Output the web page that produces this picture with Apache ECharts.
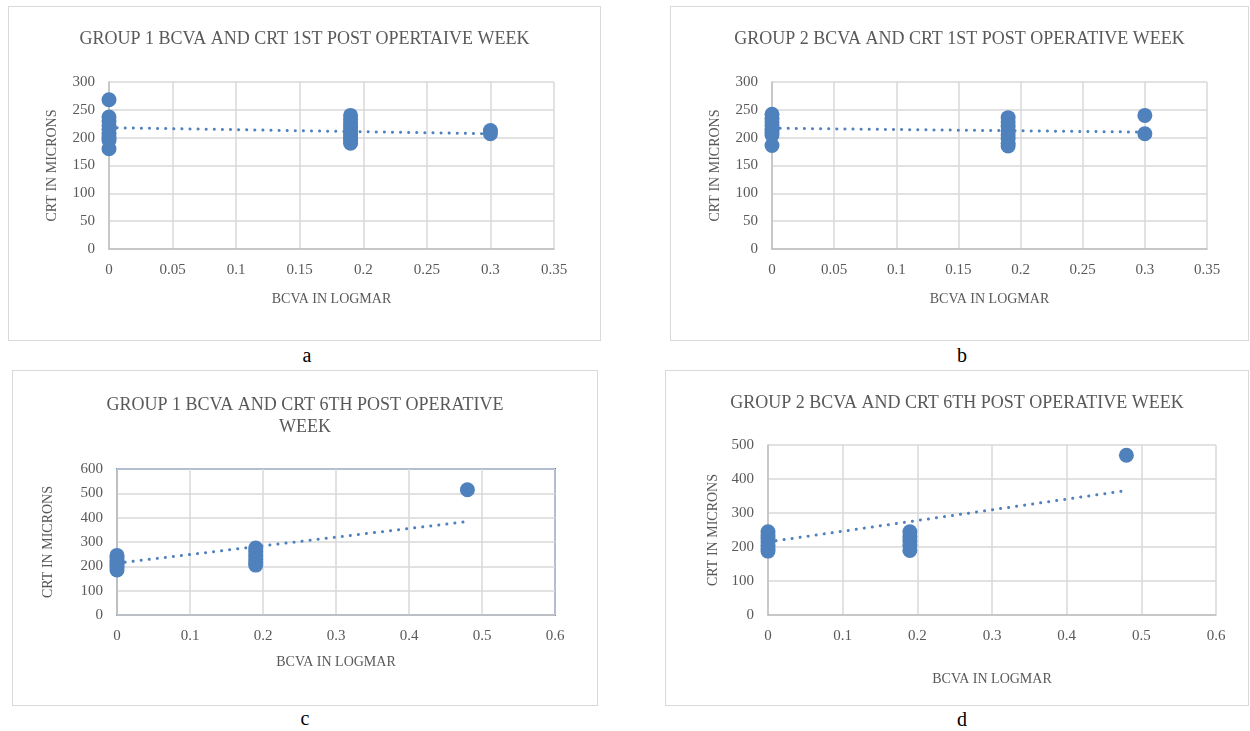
<!DOCTYPE html>
<html>
<head>
<meta charset="utf-8">
<script src="https://cdn.jsdelivr.net/npm/echarts@6/dist/echarts.min.js"></script>
<style>
  body { margin: 0; background: #fff; width: 1250px; height: 731px; position: relative; overflow: hidden; }
  .box { position: absolute; border: 1px solid #d9d9d9; box-sizing: border-box; background: #fff; }
  .tag { position: absolute; font-family: 'Liberation Serif', serif; font-size: 20px; color: #000; transform: translateX(-50%); }
</style>
</head>
<body>
<div id="ca" class="box" style="left:8px;top:6px;width:593px;height:335px"></div>
<div id="cb" class="box" style="left:670px;top:6px;width:579px;height:335px"></div>
<div id="cc" class="box" style="left:12px;top:370px;width:586px;height:336px"></div>
<div id="cd" class="box" style="left:665px;top:370px;width:584px;height:336px"></div>
<div class="tag" style="left:307px;top:344px">a</div>
<div class="tag" style="left:962px;top:344px">b</div>
<div class="tag" style="left:305px;top:707px">c</div>
<div class="tag" style="left:962px;top:708px">d</div>
<script>
// group 1, 1st post-op week
const g1w1Bcva = [0, 0, 0, 0, 0, 0, 0, 0, 0, 0.19, 0.19, 0.19, 0.19, 0.19, 0.19, 0.19, 0.19, 0.19, 0.3, 0.3]
const g1w1Crt = [268, 237, 230, 222, 215, 208, 200, 195, 180, 240, 232, 225, 218, 212, 206, 200, 195, 190, 213, 207]
const g1w1TrendX = [0, 0.3]
const g1w1TrendY = [218, 207]

// group 2, 1st post-op week
const g2w1Bcva = [0, 0, 0, 0, 0, 0, 0, 0, 0.19, 0.19, 0.19, 0.19, 0.19, 0.19, 0.19, 0.19, 0.3, 0.3]
const g2w1Crt = [242, 235, 228, 222, 215, 210, 205, 186, 236, 228, 220, 212, 205, 198, 190, 185, 240, 207]
const g2w1TrendX = [0, 0.3]
const g2w1TrendY = [217, 210]

// group 1, 6th post-op week
const g1w6Bcva = [0, 0, 0, 0, 0, 0, 0, 0.19, 0.19, 0.19, 0.19, 0.19, 0.19, 0.48]
const g1w6Crt = [245, 235, 225, 215, 205, 195, 185, 275, 260, 245, 230, 215, 205, 515]
const g1w6TrendX = [0, 0.48]
const g1w6TrendY = [213, 384]

// group 2, 6th post-op week
const g2w6Bcva = [0, 0, 0, 0, 0, 0, 0, 0.19, 0.19, 0.19, 0.19, 0.19, 0.48]
const g2w6Crt = [245, 235, 225, 215, 205, 195, 188, 245, 230, 218, 205, 190, 470]
const g2w6TrendX = [0, 0.48]
const g2w6TrendY = [215, 366]

const dotColor = '#4f81bd'
const txtColor = '#595959'
const serif = 'Liberation Serif'

const zip = (xs, ys) => xs.map((x, i) => [x, ys[i]])

function makeOption(cfg) {
  return {
    animation: false,
    title: {
      text: cfg.title,
      left: 'center',
      top: cfg.titleTop,
      textStyle: { fontFamily: serif, fontSize: 18, fontWeight: 'normal', color: txtColor, lineHeight: 22 }
    },
    grid: Object.assign({
      show: !!cfg.frame,
      borderColor: '#4472c4',
      borderWidth: 2,
      backgroundColor: 'transparent'
    }, cfg.grid),
    xAxis: {
      type: 'value',
      min: 0,
      max: cfg.xMax,
      interval: cfg.xStep,
      name: 'BCVA IN LOGMAR',
      nameLocation: 'middle',
      nameGap: cfg.xNameGap,
      nameTextStyle: { fontFamily: serif, fontSize: 14, color: txtColor },
      axisLine: { show: true, lineStyle: { color: '#bfbfbf', width: 1.5 } },
      axisTick: { show: false },
      axisLabel: { fontFamily: serif, fontSize: 15, color: txtColor, margin: 14 },
      splitLine: { show: true, lineStyle: { color: '#d9d9d9', width: 1.5 } }
    },
    yAxis: {
      type: 'value',
      min: 0,
      max: cfg.yMax,
      interval: cfg.yStep,
      name: 'CRT IN MICRONS',
      nameLocation: 'middle',
      nameGap: cfg.yNameGap,
      nameTextStyle: { fontFamily: serif, fontSize: 14, color: txtColor },
      axisLine: { show: true, lineStyle: { color: '#bfbfbf', width: 1.5 } },
      axisTick: { show: false },
      axisLabel: { fontFamily: serif, fontSize: 15, color: txtColor, margin: 14 },
      splitLine: { show: true, lineStyle: { color: '#d9d9d9', width: 1.5 } }
    },
    series: [
      {
        type: 'line',
        data: zip(cfg.trendX, cfg.trendY),
        symbol: 'none',
        z: 3,
        lineStyle: { color: dotColor, width: 3, type: [0.1, 8], cap: 'round' }
      },
      {
        type: 'scatter',
        data: zip(cfg.x, cfg.y),
        symbolSize: 15,
        z: 2,
        itemStyle: { color: dotColor, opacity: 1 }
      }
    ]
  }
}

const charts = [
  ['ca', {
    title: 'GROUP 1 BCVA AND CRT 1ST POST OPERTAIVE WEEK', titleTop: 16,
    grid: { left: 100, right: 46, top: 75, bottom: 91 },
    xMax: 0.35, xStep: 0.05, yMax: 300, yStep: 50, yNameGap: 50, xNameGap: 43,
    x: g1w1Bcva, y: g1w1Crt, trendX: g1w1TrendX, trendY: g1w1TrendY
  }],
  ['cb', {
    title: 'GROUP 2 BCVA AND CRT 1ST POST OPERATIVE WEEK', titleTop: 16,
    grid: { left: 101, right: 41, top: 75, bottom: 91 },
    xMax: 0.35, xStep: 0.05, yMax: 300, yStep: 50, yNameGap: 50, xNameGap: 43,
    x: g2w1Bcva, y: g2w1Crt, trendX: g2w1TrendX, trendY: g2w1TrendY
  }],
  ['cc', {
    title: 'GROUP 1 BCVA AND CRT 6TH POST OPERATIVE\nWEEK', titleTop: 18, frame: true,
    grid: { left: 104, right: 42, top: 98, bottom: 90 },
    xMax: 0.6, xStep: 0.1, yMax: 600, yStep: 100, yNameGap: 62, xNameGap: 40,
    x: g1w6Bcva, y: g1w6Crt, trendX: g1w6TrendX, trendY: g1w6TrendY
  }],
  ['cd', {
    title: 'GROUP 2 BCVA AND CRT 6TH POST OPERATIVE WEEK', titleTop: 16,
    grid: { left: 102, right: 32, top: 74, bottom: 90 },
    xMax: 0.6, xStep: 0.1, yMax: 500, yStep: 100, yNameGap: 48, xNameGap: 57,
    x: g2w6Bcva, y: g2w6Crt, trendX: g2w6TrendX, trendY: g2w6TrendY
  }]
]

charts.forEach(([id, cfg]) => {
  const inst = echarts.init(document.getElementById(id))
  inst.setOption(makeOption(cfg))
})
</script>
</body>
</html>
